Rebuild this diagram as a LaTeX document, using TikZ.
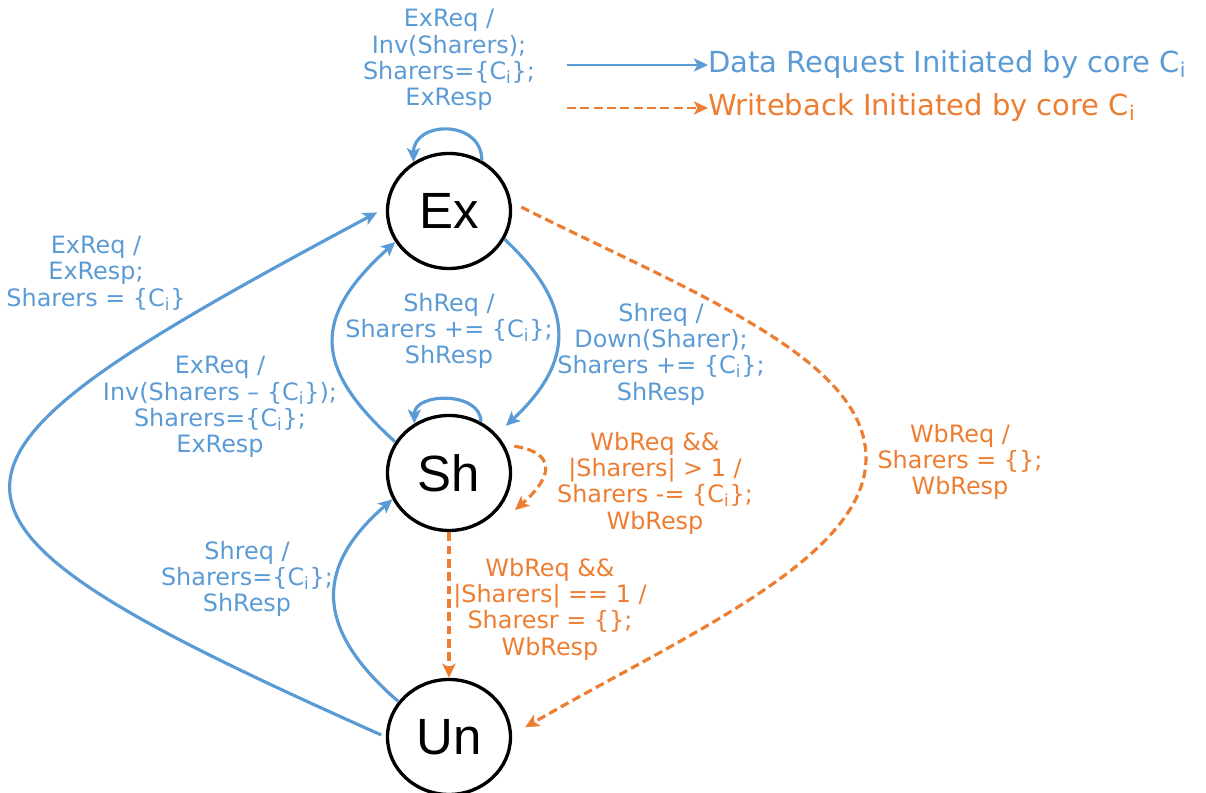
\documentclass[tikz,border=0pt]{standalone}
\usepackage{fontspec}
\setmainfont{DejaVu Sans}
\newfontfamily\statefont{Liberation Sans}
\usetikzlibrary{shapes.geometric,arrows.meta}
\definecolor{reqblue}{HTML}{5B9BD5}
\definecolor{wborange}{HTML}{ED7D31}
\newcommand{\Ci}{C\textsubscript{i}}

\begin{document}
\begin{tikzpicture}[
    state/.style={draw, ellipse, line width=1.9pt, minimum width=2.46cm, minimum height=2.3cm, inner sep=0pt, font=\statefont\fontsize{29}{34}\selectfont},
    req/.style={draw=reqblue, line width=1.8pt, -{Stealth[length=8pt,width=7.5pt,inset=2pt]}},
    wb/.style={draw=wborange, line width=1.8pt, dash pattern=on 5pt off 2.6pt, -{Stealth[length=8pt,width=7.5pt,inset=2pt]}},
    reqlabel/.style={text=reqblue, align=center, inner sep=0pt, font=\fontsize{13.6}{15}\selectfont},
    wblabel/.style={reqlabel, text=wborange},
    keylabel/.style={anchor=west, inner sep=0pt, font=\fontsize{16.5}{19}\selectfont}]
    \useasboundingbox (0,0) rectangle (24.12,15.86);
    \node[state] (Ex) at (8.98,11.64) {Ex};
    \node[state] (Sh) at (8.98,6.40) {Sh};
    \node[state] (Un) at (8.98,1.12) {Un};
    \node[reqlabel] (exloop) at (8.98,14.66) {ExReq /\\Inv(Sharers);\\Sharers=\{\Ci\};\\ExResp};
    \node[reqlabel] (exresp) at (1.92,10.40) {ExReq /\\ExResp;\\Sharers = \{\Ci\}};
    \node[reqlabel] (shloop) at (8.98,9.24) {ShReq /\\Sharers += \{\Ci\};\\ShResp};
    \node[reqlabel] (inv) at (4.40,7.72) {ExReq /\\Inv(Sharers – \{\Ci\});\\Sharers=\{\Ci\};\\ExResp};
    \node[reqlabel] (down) at (13.22,8.78) {Shreq /\\Down(Sharer);\\Sharers += \{\Ci\};\\ShResp};
    \node[reqlabel] (shresp) at (4.94,4.28) {Shreq /\\Sharers=\{\Ci\};\\ShResp};
    \node[wblabel] (wbgt) at (13.10,6.20) {WbReq \&\&\\|Sharers| > 1 /\\Sharers -= \{\Ci\};\\WbResp};
    \node[wblabel] (wbeq) at (11.00,3.68) {WbReq \&\&\\|Sharers| == 1 /\\Sharesr = \{\};\\WbResp};
    \node[wblabel] (wbresp) at (19.20,6.62) {WbReq /\\Sharers = \{\};\\WbResp};
    \coordinate (shwbtip) at (10.30,5.66);
    \coordinate (wbturn) at (17.32,6.70);
    \draw[req] (Ex.57) .. controls +(0,0.83) and +(0,0.83) .. (Ex.126);
    \draw[req] (Sh.58) .. controls +(0,0.62) and +(0,0.62) .. (Sh.125);
    \draw[req] (Sh.150) .. controls +(-1.66,1.5) and +(-1.66,-1.5) .. (Ex.210);
    \draw[req, shorten >=0.25cm] (Ex.-27) .. controls +(1.5,-1.4) and +(1.5,1.4) .. (Sh.39);
    \draw[req] (Un.145) .. controls +(-1.62,1.4) and +(-1.62,-1.4) .. (Sh.205);
    \draw[req, shorten <=0.1cm, shorten >=0.2cm] (Un.180) .. controls +(-10.15,4.52) and +(-9.77,-5.22) .. (Ex.177);
    \draw[wb] (Sh.south) -- (Un.north);
    \draw[wb, shorten <=0.2cm] (Sh.27) .. controls +(1.0,-0.15) and +(0.8,0.7) .. (shwbtip);
    \draw[wb, shorten <=0.22cm, shorten >=0.3cm] (Ex.8) .. controls +(3.58,-1.79) and +(0,2.0) .. (wbturn)
        .. controls +(0,-2.0) and +(3.47,2.0) .. (Un.2);
    \coordinate (reqstart) at (11.34,14.56);
    \coordinate (wbstart) at (11.34,13.70);
    \node[keylabel, text=reqblue] (reqkey) at (14.16,14.56) {Data Request Initiated by core \Ci};
    \node[keylabel, text=wborange] (wbkey) at (14.16,13.70) {Writeback Initiated by core \Ci};
    \draw[req, line width=1.4pt] (reqstart) -- (reqkey.west);
    \draw[wb, line width=1.4pt] (wbstart) -- (wbkey.west);
\end{tikzpicture}
\end{document}
